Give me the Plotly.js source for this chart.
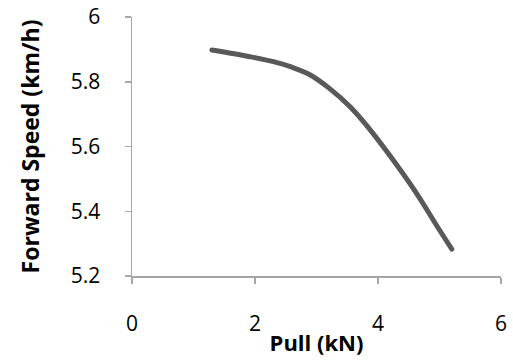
<!DOCTYPE html>
<html><head><meta charset="utf-8">
<script src="https://cdn.plot.ly/plotly-3.0.1.min.js"></script>
<style>html,body{margin:0;padding:0;background:#fff}#chart{width:513px;height:362px}
#chart .scatterlayer path.js-line{stroke-linecap:round}</style>
</head><body><div id="chart"></div>
<script>
var pull = [1.3, 1.9, 2.3, 2.6, 2.9, 3.2, 3.55, 3.85, 4.15, 4.6, 5.0, 5.2];
var speed = [5.898, 5.878, 5.862, 5.845, 5.821, 5.781, 5.722, 5.657, 5.583, 5.463, 5.342, 5.283];
var xTicks = [0, 2, 4, 6];
var yTicks = [5.2, 5.4, 5.6, 5.8, 6];
var yTickText = ['5.2', '5.4', '5.6', '5.8', '6'];

var trace = {
  x: pull, y: speed, mode: 'lines', type: 'scatter',
  line: {color: '#595959', width: 5, shape: 'spline', smoothing: 1},
  hoverinfo: 'none'
};
var axisFont = {family: 'Open Sans, sans-serif', size: 21, color: '#000'};
var layout = {
  width: 513, height: 362,
  margin: {l: 132, r: 12, t: 17, b: 86},
  paper_bgcolor: '#fff', plot_bgcolor: '#fff',
  showlegend: false,
  xaxis: {
    range: [0, 6], tickvals: xTicks, ticktext: xTicks.map(String),
    showgrid: false, zeroline: false, showline: true, linecolor: '#a6a6a6', linewidth: 1.5,
    ticks: 'outside', ticklen: 6, tickcolor: '#a6a6a6', tickwidth: 1.5,
    tickfont: axisFont, ticklabelstandoff: 22,
    title: {text: '<b>Pull (kN)</b>', font: {family: 'Open Sans, sans-serif', size: 22, color: '#000'}, standoff: 0}
  },
  yaxis: {
    range: [5.2, 6], tickvals: yTicks, ticktext: yTickText,
    showgrid: false, zeroline: false, showline: true, linecolor: '#a6a6a6', linewidth: 1.5,
    ticks: 'outside', ticklen: 6, tickcolor: '#a6a6a6', tickwidth: 1.5,
    tickfont: axisFont, ticklabelstandoff: 20,
    title: {text: '<b>Forward Speed (km/h)</b>', font: {family: 'Open Sans, sans-serif', size: 23, color: '#000'}, standoff: 24}
  }
};
Plotly.newPlot('chart', [trace], layout, {staticPlot: true, displayModeBar: false});
</script></body></html>
